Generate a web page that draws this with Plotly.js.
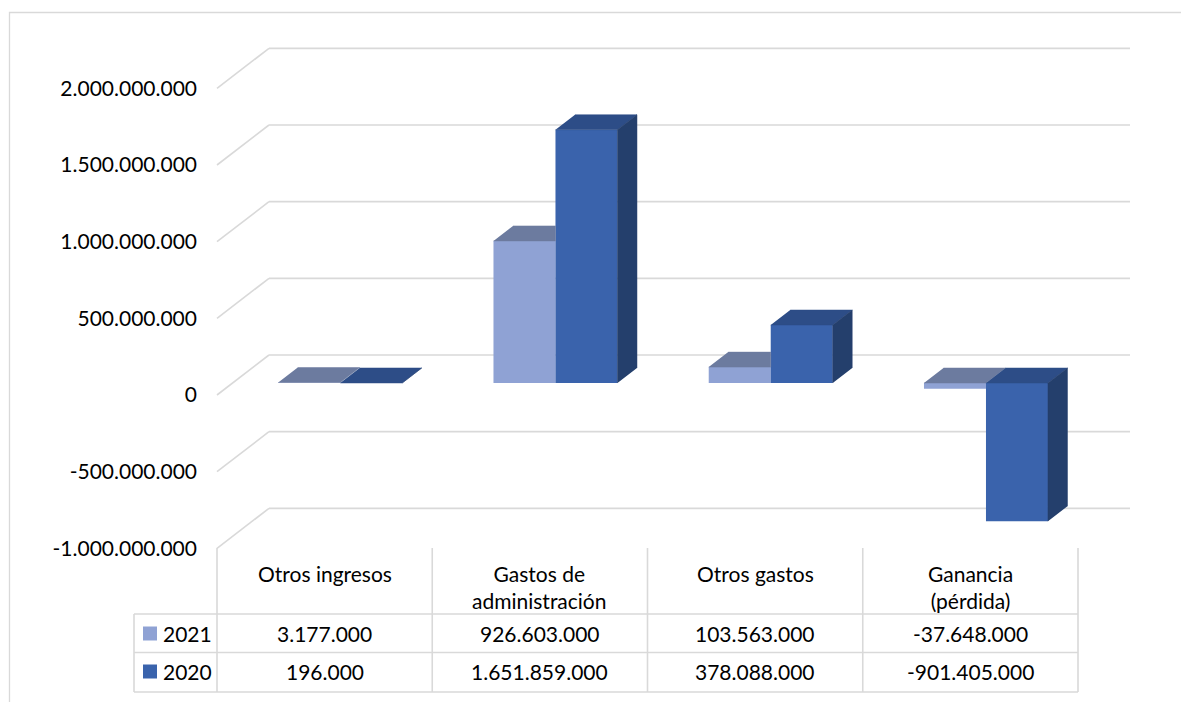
<!DOCTYPE html>
<html><head><meta charset="utf-8">
<script src="https://cdn.plot.ly/plotly-3.0.1.min.js"></script>
<style>html,body{margin:0;padding:0;background:#fff;} #chart{width:1181px;height:702px;}</style>
</head><body><div id="chart"></div>
<script>
// ---------------- data ----------------
const categories = ['Otros ingresos', 'Gastos de<br>administración', 'Otros gastos', 'Ganancia<br>(pérdida)'];
const seriesNames = ['2021', '2020'];
const values2021 = [3177000, 926603000, 103563000, -37648000];
const values2020 = [196000, 1651859000, 378088000, -901405000];
const tickValues = [-1000000000, -500000000, 0, 500000000, 1000000000, 1500000000, 2000000000];

// ---------------- style ----------------
const FONT = 'Lato, "Open Sans", sans-serif';
const FS = 21;
const col2021 = {front: '#8FA2D4', top: '#6C7B9F'};
const col2020 = {front: '#3A63AC', top: '#2D4D87', side: '#243F6C'};
const gridCol = '#D9D9D9';

function fmt(v) {
  const s = Math.abs(Math.round(v)).toString().replace(/\B(?=(\d{3})+(?!\d))/g, '.');
  return (v < 0 ? '-' : '') + s;
}

// ---------------- geometry (pixels) ----------------
const plotL = 130, plotR = 1140, plotT = 40, plotB = 562;
const colW = 215.25, frontLeft = 217;
const pxPerVal = 153.33 / 1e9;
const zeroFrontPx = 395;
const backDX = 52, backDY = 40;
const x0 = -0.5 - (frontLeft - plotL) / colW;
const x1 = x0 + (plotR - plotL) / colW;
const yTop = (zeroFrontPx - plotT) / pxPerVal;
const yBot = (zeroFrontPx - plotB) / pxPerVal;
const dxBack = backDX / colW, dyBack = backDY / pxPerVal;
const dxB = 0.3 * dxBack, dyB = 0.3 * dyBack;       // bar plane offset
const ddx = 0.375 * dxBack, ddy = 0.375 * dyBack;   // bar depth
const barW = 62 / colW;
const xp = px => (px - plotL) / (plotR - plotL);
const yp = py => (plotB - py) / (plotB - plotT);

// ---------------- faces ----------------
const idx = categories.map((_, i) => i);
function poly(arrX, arrY, pts) { pts.forEach(p => { arrX.push(p[0]); arrY.push(p[1]); }); arrX.push(null); arrY.push(null); }
const top21 = {x: [], y: []}, top20 = {x: [], y: []}, side20 = {x: [], y: []};
idx.forEach(i => {
  const c = i + dxB;
  const v1 = values2021[i], v2 = values2020[i];
  // 2021 top face (partly hidden behind the 2020 bar when that one is taller)
  const t1 = dyB + Math.max(v1, 0);
  if (Math.max(v2, 0) > Math.max(v1, 0)) {
    poly(top21.x, top21.y, [[c - barW, t1], [c, t1], [c, t1 + ddy], [c - barW + ddx, t1 + ddy]]);
  } else {
    poly(top21.x, top21.y, [[c - barW, t1], [c, t1], [c + ddx, t1 + ddy], [c - barW + ddx, t1 + ddy]]);
  }
  const t2 = dyB + Math.max(v2, 0), b2 = dyB + Math.min(v2, 0);
  poly(top20.x, top20.y, [[c, t2], [c + barW, t2], [c + barW + ddx, t2 + ddy], [c + ddx, t2 + ddy]]);
  poly(side20.x, side20.y, [[c + barW, b2], [c + barW, t2], [c + barW + ddx, t2 + ddy], [c + barW + ddx, b2 + ddy]]);
});

const faceTrace = (f, color) => ({
  type: 'scatter', mode: 'lines', x: f.x, y: f.y, fill: 'toself', fillcolor: color,
  line: {color: color, width: 0.5}, hoverinfo: 'skip', showlegend: false
});

const traces = [
  {type: 'bar', name: seriesNames[0], x: idx, y: values2021, base: dyB, offset: dxB - barW, width: barW,
   marker: {color: col2021.front, line: {width: 0}}, showlegend: false, hoverinfo: 'skip'},
  {type: 'bar', name: seriesNames[1], x: idx, y: values2020, base: dyB, offset: dxB, width: barW,
   marker: {color: col2020.front, line: {width: 0}}, showlegend: false, hoverinfo: 'skip'},
  faceTrace(top21, col2021.top),
  faceTrace(top20, col2020.top),
  faceTrace(side20, col2020.side)
];

// ---------------- gridlines (3D back wall) ----------------
const shapes = [];
tickValues.forEach(v => {
  shapes.push({type: 'line', layer: 'below', xref: 'x', yref: 'y', x0: -0.5, y0: v, x1: -0.5 + dxBack, y1: v + dyBack,
    line: {color: gridCol, width: 1.6}});
  shapes.push({type: 'line', layer: 'below', xref: 'x', yref: 'y', x0: -0.5 + dxBack, y0: v + dyBack,
    x1: categories.length - 0.5 + dxBack, y1: v + dyBack, line: {color: gridCol, width: 1.6}});
});

// ---------------- data table ----------------
const tblTop = 548, rowHead = 614, row1 = 652.5, tblBot = 692, tblLeft = 134;
const colEdge = k => frontLeft + k * colW;
const tl = (ax0, ay0, ax1, ay1) => ({type: 'line', xref: 'paper', yref: 'paper',
  x0: xp(ax0), y0: yp(ay0), x1: xp(ax1), y1: yp(ay1), line: {color: gridCol, width: 1.6}});
for (let k = 0; k <= categories.length; k++) shapes.push(tl(colEdge(k), tblTop, colEdge(k), tblBot));
shapes.push(tl(tblLeft, rowHead, tblLeft, tblBot));
[rowHead, row1, tblBot].forEach(y => shapes.push(tl(tblLeft, y, colEdge(categories.length), y)));

// legend keys inside the table
const rowsY = [633.5, 671.5];
[col2021.front, col2020.front].forEach((c, r) => {
  shapes.push({type: 'rect', xref: 'paper', yref: 'paper', x0: xp(143), x1: xp(157),
    y0: yp(rowsY[r] - 7), y1: yp(rowsY[r] + 7), fillcolor: c, line: {width: 0}});
});

// outer chart border
shapes.push({type: 'rect', xref: 'paper', yref: 'paper', x0: xp(9.5), y0: yp(12.5), x1: xp(1200), y1: yp(720),
  fillcolor: 'rgba(0,0,0,0)', line: {color: gridCol, width: 1.3}});

const annotations = [];
const colCenter = i => frontLeft + (i + 0.5) * colW;
categories.forEach((cat, i) => {
  annotations.push({xref: 'paper', yref: 'paper', x: xp(colCenter(i)), y: yp(559), xanchor: 'center', yanchor: 'top',
    text: cat, showarrow: false, align: 'center', font: {family: FONT, size: FS, color: '#000'}});
  [values2021, values2020].forEach((vals, r) => {
    annotations.push({xref: 'paper', yref: 'paper', x: xp(colCenter(i)), y: yp(rowsY[r]), xanchor: 'center', yanchor: 'middle',
      text: fmt(vals[i]), showarrow: false, font: {family: FONT, size: FS, color: '#000'}});
  });
});
seriesNames.forEach((n, r) => {
  annotations.push({xref: 'paper', yref: 'paper', x: xp(161), y: yp(rowsY[r]), xanchor: 'left', yanchor: 'middle',
    text: n, showarrow: false, font: {family: FONT, size: FS, color: '#000'}});
});

const layout = {
  width: 1181, height: 702,
  margin: {l: plotL, r: 1181 - plotR, t: plotT, b: 702 - plotB, pad: 0},
  paper_bgcolor: '#fff', plot_bgcolor: 'rgba(0,0,0,0)',
  barmode: 'overlay', showlegend: false,
  xaxis: {range: [x0, x1], visible: false, fixedrange: true},
  yaxis: {range: [yBot, yTop], anchor: 'free', position: xp(frontLeft), side: 'left',
    showgrid: false, zeroline: false, showline: false, ticks: '',
    tickvals: tickValues, ticktext: tickValues.map(fmt), ticklabelstandoff: 20,
    tickfont: {family: FONT, size: FS, color: '#000'}, automargin: false, fixedrange: true},
  shapes: shapes, annotations: annotations
};

Plotly.newPlot('chart', traces, layout, {displayModeBar: false, staticPlot: true});
</script>
</body></html>
